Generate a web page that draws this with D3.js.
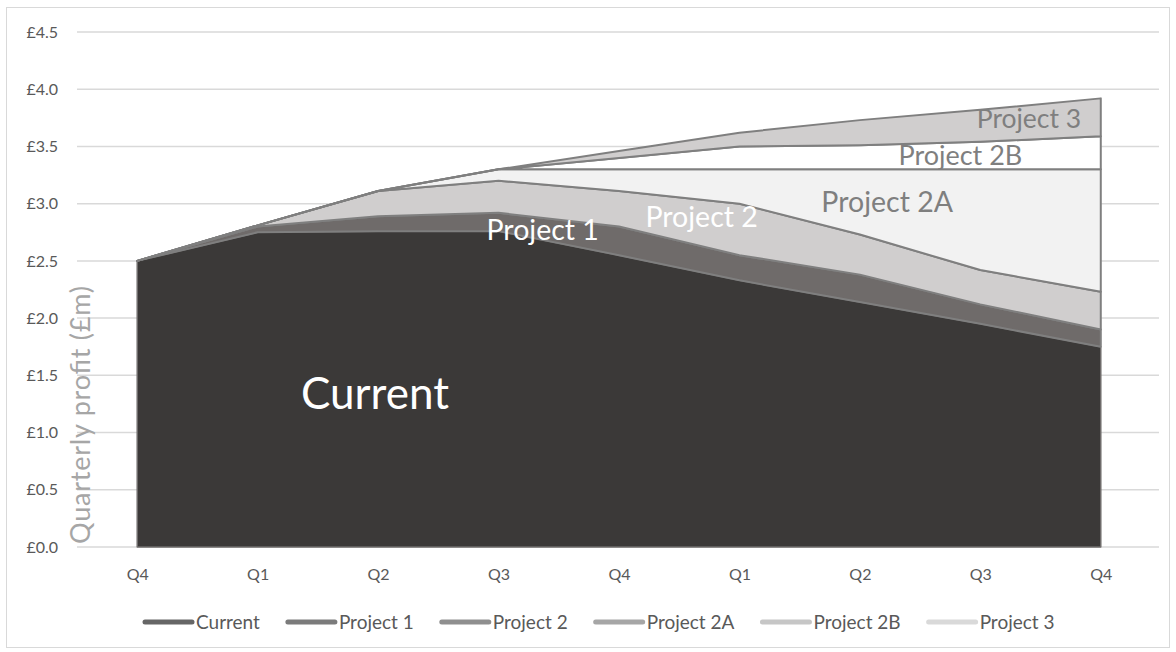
<!DOCTYPE html>
<html>
<head>
<meta charset="utf-8">
<script src="https://cdn.jsdelivr.net/npm/d3@7"></script>
<style>
  body { margin: 0; background: #fff; }
  svg { display: block; font-family: Lato, "Open Sans", sans-serif; }
</style>
</head>
<body>
<svg id="chart" width="1176" height="652"></svg>
<script>
const quarters = ["Q4", "Q1", "Q2", "Q3", "Q4", "Q1", "Q2", "Q3", "Q4"];
const seriesNames = ["Current", "Project 1", "Project 2", "Project 2A", "Project 2B", "Project 3"];

// quarterly profit per series (£m), stacked
const current   = [2.50, 2.75, 2.76, 2.76, 2.55, 2.33, 2.14, 1.95, 1.75];
const project1  = [0.00, 0.05, 0.13, 0.16, 0.25, 0.22, 0.24, 0.17, 0.15];
const project2  = [0.00, 0.01, 0.22, 0.28, 0.31, 0.45, 0.35, 0.30, 0.33];
const project2A = [0.00, 0.00, 0.00, 0.10, 0.19, 0.30, 0.57, 0.88, 1.07];
const project2B = [0.00, 0.00, 0.00, 0.00, 0.10, 0.20, 0.21, 0.24, 0.29];
const project3  = [0.00, 0.00, 0.00, 0.00, 0.06, 0.12, 0.22, 0.28, 0.33];

const yTicks = [0, 0.5, 1, 1.5, 2, 2.5, 3, 3.5, 4, 4.5];

// in-chart labels: [fractional quarter index, value at baseline]
const labelSpots = {
  "Current":    [1.36, 1.21],
  "Project 1":  [2.90, 2.68],
  "Project 2":  [4.22, 2.80],
  "Project 2A": [5.68, 2.93],
  "Project 2B": [6.32, 3.34],
  "Project 3":  [6.97, 3.66]
};

const fills   = ["#3b3938", "#6f6b6a", "#d0cece", "#f2f2f2", "#ffffff", "#d0cece"];
const strokes = ["#6f6c6b", "#7f7f7f", "#7f7f7f", "#7f7f7f", "#7f7f7f", "#7f7f7f"];
const legendColors = ["#666666", "#7b7b7b", "#8f8f8f", "#a6a6a6", "#c6c6c6", "#d9d9d9"];
const labelColors = ["#ffffff", "#ffffff", "#ffffff", "#7f7f7f", "#7f7f7f", "#7f7f7f"];
const labelSizes = [44, 28.5, 28.5, 28.5, 27, 26.5];

const svg = d3.select("#chart");

svg.append("rect")
  .attr("x", 6.5).attr("y", 7.5)
  .attr("width", 1163).attr("height", 640)
  .attr("fill", "#fff")
  .attr("stroke", "#d9d9d9");

const margin = { top: 32, right: 15, bottom: 105, left: 77 };
const plotW = 1176 - margin.left - margin.right;
const plotH = 652 - margin.top - margin.bottom;

const g = svg.append("g").attr("transform", `translate(${margin.left},${margin.top})`);

const band = d3.scaleBand().domain(d3.range(quarters.length)).range([0, plotW]);
const x = d3.scaleLinear()
  .domain([0, quarters.length - 1])
  .range([band(0) + band.bandwidth() / 2, band(quarters.length - 1) + band.bandwidth() / 2]);
const y = d3.scaleLinear().domain([0, 4.5]).range([plotH, 0]);

// grid
g.append("g")
  .selectAll("line")
  .data(yTicks)
  .join("line")
  .attr("x1", 0).attr("x2", plotW - 2)
  .attr("y1", d => y(d)).attr("y2", d => y(d))
  .attr("stroke", "#d9d9d9")
  .attr("stroke-width", 1.5);

// y axis
const yAxis = g.append("g")
  .call(d3.axisLeft(y).tickValues(yTicks).tickSize(0).tickPadding(19).tickFormat(d => "£" + d3.format(".1f")(d)));
yAxis.select(".domain").remove();
yAxis.selectAll("text").attr("fill", "#595959").style("font-size", "16px").style("font-family", "Lato, sans-serif");

// x axis
const xAxis = g.append("g")
  .attr("transform", `translate(0,${plotH})`)
  .call(d3.axisBottom(x).tickValues(d3.range(quarters.length)).tickSize(0).tickPadding(22).tickFormat(i => quarters[i]));
xAxis.select(".domain").remove();
xAxis.selectAll("text").attr("fill", "#595959").style("font-size", "16px").style("font-family", "Lato, sans-serif");

// stacked areas
const table = quarters.map((q, i) => ({
  "Current": current[i],
  "Project 1": project1[i],
  "Project 2": project2[i],
  "Project 2A": project2A[i],
  "Project 2B": project2B[i],
  "Project 3": project3[i]
}));

const stacked = d3.stack().keys(seriesNames)(table);

const area = d3.area()
  .x((d, i) => x(i))
  .y0(d => y(d[0]))
  .y1(d => y(d[1]));

g.append("g")
  .selectAll("path")
  .data(stacked)
  .join("path")
  .attr("d", area)
  .attr("fill", (d, i) => fills[i])
  .attr("stroke", (d, i) => strokes[i])
  .attr("stroke-width", (d, i) => i === 0 ? 1.5 : 2)
  .attr("stroke-linejoin", "round");

// in-chart labels
seriesNames.forEach((name, i) => {
  const [qi, v] = labelSpots[name];
  g.append("text")
    .attr("x", x(qi))
    .attr("y", y(v))
    .attr("fill", labelColors[i])
    .style("font-size", labelSizes[i] + "px")
    .style("font-family", "Lato, sans-serif")
    .text(name);
});

// y axis title
svg.append("text")
  .attr("transform", "translate(90,415) rotate(-90)")
  .attr("text-anchor", "middle")
  .attr("fill", "#a6a6a6")
  .attr("textLength", 258)
  .style("font-size", "27px")
  .style("font-family", "Lato, sans-serif")
  .text("Quarterly profit  (£m)");

// legend
const legend = svg.append("g").attr("transform", "translate(0,622)");
let lx = 145;
seriesNames.forEach((name, i) => {
  const item = legend.append("g").attr("transform", `translate(${lx},0)`);
  item.append("line")
    .attr("x1", 0).attr("x2", 47)
    .attr("y1", 0).attr("y2", 0)
    .attr("stroke", legendColors[i])
    .attr("stroke-width", 5)
    .attr("stroke-linecap", "round");
  const t = item.append("text")
    .attr("x", 51)
    .attr("y", 6.5)
    .attr("fill", "#595959")
    .style("font-size", "19px")
    .style("font-family", "Lato, sans-serif")
    .text(name);
  lx += 51 + t.node().getComputedTextLength() + 28;
});
</script>
</body>
</html>
